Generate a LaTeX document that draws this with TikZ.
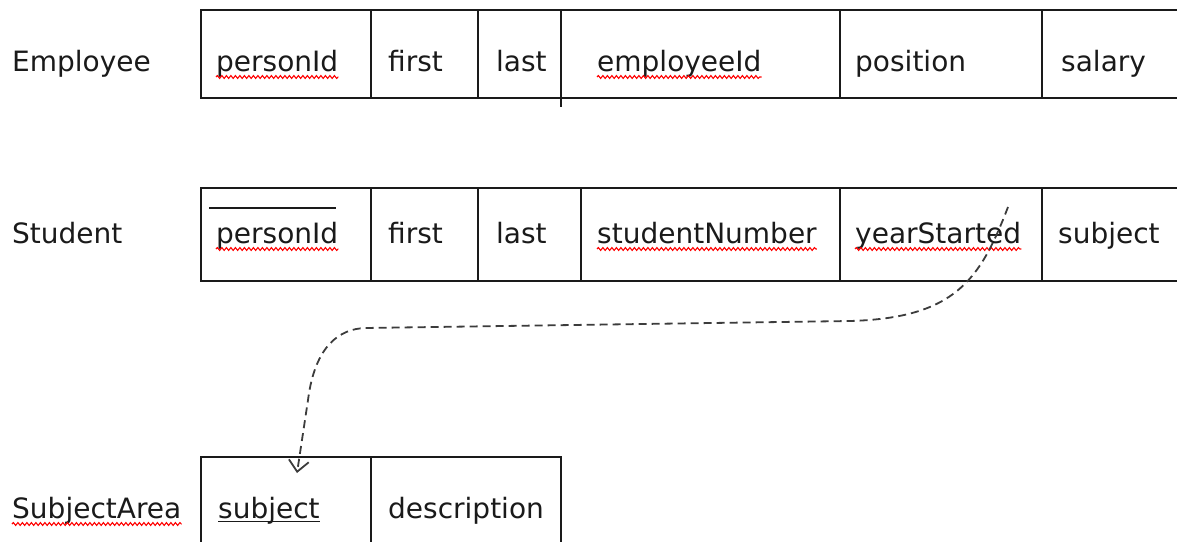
\documentclass[tikz,border=0pt]{standalone}
\usepackage{fontspec}
\setmainfont{DejaVu Sans}
\usetikzlibrary{arrows.meta,decorations.pathmorphing}
\definecolor{ink}{HTML}{1A1A1A}
\tikzset{
  attr/.style={anchor=base west,inner sep=0pt,text=ink,font=\fontsize{28}{30}\selectfont},
  cellline/.style={line width=1.6pt,ink},
  wavy/.style={red,line width=1.1pt,decorate,decoration={snake,amplitude=1.4pt,segment length=4.5pt}},
  fk/.style={line width=1.8pt,ink!85,dash pattern=on 8pt off 5pt,-{Straight Barb[length=11pt,width=20pt,line width=1.8pt]}}
}
\begin{document}
\begin{tikzpicture}[x=1pt,y=-1pt]
\useasboundingbox (0,0) rectangle (1177,541);
% Employee
\draw[cellline] (1177,10) -- (201,10) -- (201,98) -- (1177,98);
\foreach \x in {371,478,840,1042} \draw[cellline] (\x,10) -- (\x,98);
\draw[cellline] (561,10) -- (561,107);
\node[attr] (emp) at (12,71) {Employee};
\node[attr] (epid) at (216,71) {personId};
\node[attr] (efirst) at (388,71) {first};
\node[attr] (elast) at (496,71) {last};
\node[attr] (eeid) at (597,71) {employeeId};
\node[attr] (epos) at (855,71) {position};
\node[attr] (esal) at (1061,71) {salary};
% Student
\draw[cellline] (1177,188) -- (201,188) -- (201,281) -- (1177,281);
\foreach \x in {371,478,581,840,1042} \draw[cellline] (\x,188) -- (\x,281);
\draw[cellline] (209,208) -- (336,208);
\node[attr] (stu) at (12,243) {Student};
\node[attr] (spid) at (216,243) {personId};
\node[attr] (sfirst) at (388,243) {first};
\node[attr] (slast) at (496,243) {last};
\node[attr] (ssn) at (597,243) {studentNumber};
\node[attr] (sys) at (855,243) {yearStarted};
\node[attr] (ssub) at (1058,243) {subject};
% SubjectArea
\draw[cellline] (201,545) -- (201,457) -- (561,457) -- (561,545);
\draw[cellline] (371,457) -- (371,545);
\node[attr] (sa) at (12,518) {SubjectArea};
\node[attr] (sasub) at (218,518) {subject};
\node[attr] (sadesc) at (388,518) {description};
\draw[ink,line width=1.3pt] ([yshift=-3.5pt]sasub.base west) -- ([yshift=-3.5pt]sasub.base east);
\foreach \n in {epid,eeid,spid,ssn,sys,sa}
  \draw[wavy] ([yshift=-6pt]\n.base west) -- ([yshift=-6pt]\n.base east);
% foreign key
\coordinate (fkfrom) at (1008,207);
\coordinate (fkto) at (297,473);
\draw[fk] (fkfrom) .. controls (980,280) and (955,318) .. (850,321)
  -- (365,328) .. controls (340,329) and (315,345) .. (308,400) -- (fkto);
\end{tikzpicture}
\end{document}
